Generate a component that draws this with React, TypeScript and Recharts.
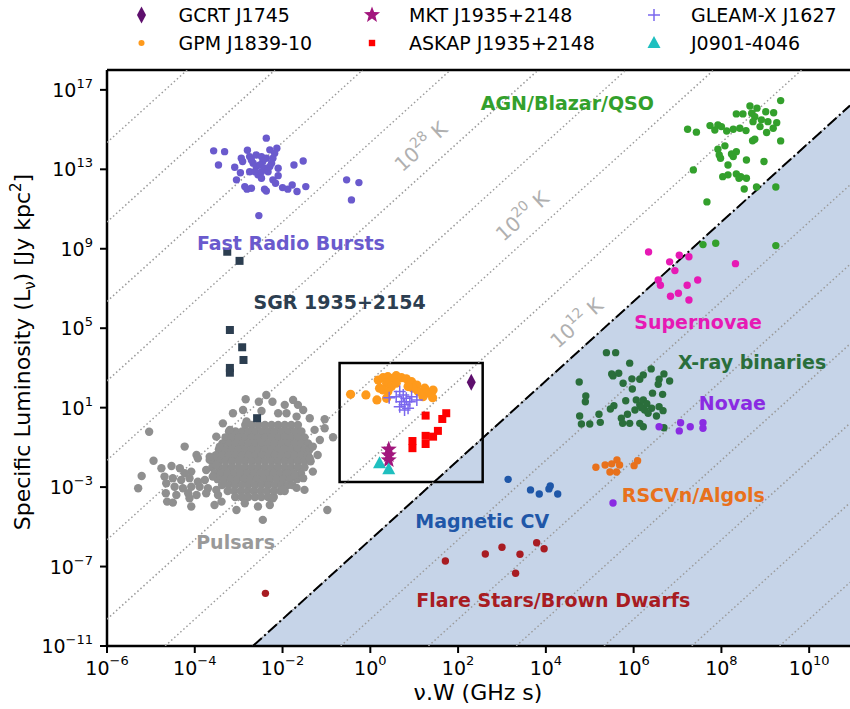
import { ComposedChart, Area, Scatter, XAxis, YAxis, ReferenceArea, ReferenceLine } from 'recharts'

// all positions are log10 values
const X_MIN = -6
const X_MAX = 10.93
const Y_MIN = -11
const Y_MAX = 18

const xTicks = [-6, -4, -2, 0, 2, 4, 6, 8, 10]
const yTicks = [-11, -7, -3, 1, 5, 9, 13, 17]

// brightness temperature lines: log L = 2 log(nuW) + log T + TB_ZERO
const tbLines = [-12, -8, -4, 0, 4, 8, 12, 16, 20, 24, 28, 32, 36, 40, 44]
const TB_ZERO = -17.65
const TB_LIMIT = 12
const tbLabels = [
  { t: 28, x: 1.15, y: 14.15 },
  { t: 20, x: 3.46, y: 10.65 },
  { t: 12, x: 4.7, y: 5.26 },
]

const inset = { x1: -0.7, x2: 2.56, y1: -2.74, y2: 3.25 }

type P = [number, number]

const frb: P[] = [
  [-2.37, 14.57], [-3.57, 13.93], [-3.32, 13.89], [-2.8, 13.96], [-2.29, 13.98], [-2.13, 14.06],
  [-3.46, 13.22], [-3.09, 13.1], [-2.94, 13.56], [-2.75, 13.64], [-2.6, 13.72], [-2.48, 13.64],
  [-2.37, 13.56], [-2.22, 13.56], [-2.18, 13.81], [-2.67, 13.31], [-2.6, 13.14], [-2.45, 13.39],
  [-2.25, 13.31], [-2.1, 13.05], [-2.96, 12.83], [-2.75, 12.88], [-2.56, 12.72], [-2.48, 12.55],
  [-2.33, 12.88], [-2.1, 12.68], [-3.05, 12.47], [-2.22, 12.47], [-2.16, 12.3], [-2.86, 12.13],
  [-2.81, 12.0], [-2.71, 12.05], [-2.41, 12.0], [-2.37, 11.91], [-2.0, 12.08], [-1.88, 12.0],
  [-1.78, 12.21], [-1.67, 11.88], [-1.47, 12.13], [-1.74, 13.22], [-1.53, 13.42], [-2.54, 10.67],
  [-0.54, 12.47], [-0.26, 12.33], [-0.43, 11.46], [-2.52, 13.22], [-2.41, 13.05], [-2.63, 12.88],
  [-2.29, 13.14], [-2.71, 13.47], [-2.91, 13.39], [-2.48, 12.88],
]

const sgr: P[] = [
  [-3.26, 8.85], [-2.98, 8.39], [-3.2, 4.91], [-2.92, 4.04], [-2.89, 3.4], [-3.2, 3.0], [-3.2, 2.76], [-2.58, 0.47],
]

// dense pulsar core, one row per luminosity level
const pulsarCore: { y: number; xs: number[] }[] = [
  { y: 0.13, xs: [-2.85, -2.7, -2.55, -2.4, -2.25, -2.1, -1.95, -1.8, -1.65] },
  { y: -0.2, xs: [-3.22, -3.07, -2.92, -2.77, -2.62, -2.47, -2.32, -2.17, -2.02, -1.87, -1.72, -1.57] },
  { y: -0.5, xs: [-3.3, -3.15, -3.0, -2.85, -2.7, -2.55, -2.4, -2.25, -2.1, -1.95, -1.8, -1.65, -1.5] },
  { y: -0.8, xs: [-3.37, -3.22, -3.07, -2.92, -2.77, -2.62, -2.47, -2.32, -2.17, -2.02, -1.87, -1.72, -1.57, -1.42] },
  { y: -1.1, xs: [-3.45, -3.3, -3.15, -3.0, -2.85, -2.7, -2.55, -2.4, -2.25, -2.1, -1.95, -1.8, -1.65, -1.5, -1.38] },
  { y: -1.4, xs: [-3.52, -3.37, -3.22, -3.07, -2.92, -2.77, -2.62, -2.47, -2.32, -2.17, -2.02, -1.87, -1.72, -1.57, -1.42] },
  { y: -1.7, xs: [-3.6, -3.45, -3.3, -3.15, -3.0, -2.85, -2.7, -2.55, -2.4, -2.25, -2.1, -1.95, -1.8, -1.65, -1.5, -1.36] },
  { y: -2.0, xs: [-3.6, -3.45, -3.3, -3.15, -3.0, -2.85, -2.7, -2.55, -2.4, -2.25, -2.1, -1.95, -1.8, -1.65, -1.5] },
  { y: -2.3, xs: [-3.55, -3.4, -3.25, -3.1, -2.95, -2.8, -2.65, -2.5, -2.35, -2.2, -2.05, -1.9, -1.75, -1.58] },
  { y: -2.6, xs: [-3.48, -3.33, -3.18, -3.03, -2.88, -2.73, -2.58, -2.43, -2.28, -2.13, -1.98, -1.83, -1.67] },
  { y: -2.9, xs: [-3.38, -3.23, -3.08, -2.93, -2.78, -2.63, -2.48, -2.33, -2.18, -2.03, -1.88, -1.78] },
  { y: -3.2, xs: [-3.25, -3.1, -2.95, -2.8, -2.65, -2.5, -2.35, -2.2, -2.05, -1.95] },
  { y: -3.5, xs: [-3.08, -2.93, -2.78, -2.63, -2.48, -2.33, -2.2] },
]

const pulsarOuter: P[] = [
  [-4.76, -2.05], [-4.53, -1.94], [-4.34, -2.05], [-4.23, -2.3], [-4.08, -2.22], [-3.96, -1.38],
  [-3.93, -1.55], [-3.74, -2.14], [-3.66, -1.63], [-3.51, -1.89], [-4.69, -2.47], [-4.5, -2.55],
  [-4.31, -2.64], [-4.12, -2.55], [-3.93, -2.73], [-3.77, -2.64], [-3.59, -2.47], [-4.65, -2.81],
  [-4.46, -2.98], [-4.27, -3.06], [-4.08, -2.98], [-3.89, -2.98], [-3.7, -3.06], [-3.51, -3.14],
  [-4.66, -3.31], [-4.42, -3.4], [-4.15, -3.31], [-3.96, -3.4], [-3.74, -3.31], [-4.63, -3.73],
  [-4.5, -3.78], [-4.08, -3.98], [-4.12, -3.56], [-3.47, -3.4], [-3.39, -3.73],
  [-5.04, -0.21], [-4.23, -0.96], [-4.94, -1.67], [-5.21, -2.44], [-5.29, -3.06], [-3.05, -4.15],
  [-2.45, -4.65], [-2.86, -3.81], [-2.56, -3.98], [-2.29, -3.9], [-2.22, -3.56], [-1.99, -3.14],
  [-1.72, -2.39], [-1.53, -2.55], [-1.31, -2.22], [-1.38, -1.55], [-1.31, -0.96], [-1.15, -0.63],
  [-1.04, -0.04], [-0.85, -0.49], [-1.04, 0.42], [-1.38, 0.47], [-1.53, 0.88], [-1.65, 1.14],
  [-1.76, 1.39], [-2.23, 1.3], [-2.37, 1.64], [-2.54, 1.3], [-2.84, 1.42], [-2.9, 0.88],
  [-3.13, 0.72], [-3.36, 0.21], [-2.1, 0.72], [-1.91, 0.72], [-1.68, 0.55], [-2.82, 0.3],
  [-3.51, -0.46], [-3.66, -1.47], [-3.43, -0.96], [-0.98, -4.15], [-2.48, 0.83], [-1.95, 1.14],
  [-3.2, -0.12], [-1.27, -0.12], [-1.2, -1.38], [-1.5, -3.14], [-1.68, -3.04], [-3.55, -3.9],
]

const agn: P[] = [
  [9.35, 16.46], [8.65, 16.19], [8.81, 16.08], [8.34, 15.79], [8.49, 15.79], [8.69, 15.82],
  [8.76, 15.65], [9.01, 15.9], [9.19, 15.85], [8.72, 15.4], [8.91, 15.49], [9.06, 15.4],
  [9.26, 15.35], [7.23, 15.02], [7.43, 14.87], [7.74, 15.2], [7.92, 15.23], [8.0, 15.15],
  [7.85, 14.98], [8.12, 14.93], [8.27, 15.02], [8.42, 15.07], [8.56, 14.95], [8.88, 15.15],
  [9.03, 14.85], [9.18, 15.07], [9.35, 14.43], [8.71, 14.44], [8.76, 14.51], [7.92, 14.01],
  [8.08, 14.18], [7.95, 13.72], [8.23, 13.77], [8.34, 13.89], [8.27, 13.64], [7.98, 13.56],
  [8.57, 13.47], [8.97, 13.39], [8.15, 13.22], [7.36, 12.97], [8.03, 12.63], [8.15, 12.72],
  [8.34, 12.77], [8.44, 12.63], [8.4, 12.55], [8.57, 12.55], [8.52, 12.01], [8.8, 12.11],
  [9.24, 12.11], [7.67, 11.36], [7.58, 9.21], [7.87, 9.28], [9.24, 9.16],
]

const supernovae: P[] = [
  [6.34, 8.84], [6.82, 8.34], [7.04, 8.67], [7.26, 8.6], [8.32, 8.25], [6.94, 7.9], [6.56, 7.43],
  [6.61, 7.16], [7.22, 7.16], [7.46, 7.43], [6.84, 6.61], [7.02, 6.76], [7.26, 6.42],
]

const xrb: P[] = [
  [5.38, 3.77], [5.59, 3.77], [5.91, 3.24], [4.76, 2.29], [5.5, 2.7], [5.53, 2.6], [5.66, 2.73],
  [5.76, 2.23], [5.96, 2.45], [5.97, 1.94], [6.14, 2.43], [6.22, 2.65], [6.4, 2.95], [6.58, 2.43],
  [6.69, 2.7], [6.82, 2.34], [6.56, 2.18], [6.43, 1.73], [6.66, 1.67], [4.91, 1.59], [4.9, 1.3],
  [5.82, 1.35], [5.55, 1.1], [5.47, 0.93], [6.06, 1.39], [6.14, 1.14], [6.22, 1.39], [6.03, 0.88],
  [6.25, 0.88], [6.41, 0.97], [6.58, 1.05], [6.67, 0.85], [6.33, 0.72], [6.52, 0.58], [4.77, 0.58],
  [5.21, 0.67], [5.86, 0.67], [5.72, 0.47], [4.81, 0.18], [5.0, 0.18], [5.24, 0.26], [5.75, 0.21],
  [5.91, 0.21], [6.14, 0.21], [6.22, 0.04], [6.69, -0.01], [6.18, 1.0], [6.3, 1.2],
]

const novae: P[] = [
  [6.58, 0.04], [7.07, 0.24], [7.04, -0.17], [7.29, 0.04], [7.58, 0.24], [7.58, -0.04], [5.53, -3.8],
]

const rscvn: P[] = [
  [5.14, -2.0], [5.35, -1.89], [5.5, -1.83], [5.62, -1.63], [5.68, -1.89], [5.46, -2.24], [5.61, -2.24],
  [6.01, -1.92], [6.09, -1.67],
]

const magCV: P[] = [[3.14, -2.61], [3.65, -3.14], [3.85, -3.35], [4.07, -3.09], [4.1, -2.94], [4.27, -3.35]]

const flareStars: P[] = [
  [-2.39, -8.35], [1.71, -6.72], [2.62, -6.37], [3.0, -6.03], [3.41, -6.38], [3.31, -7.34], [3.79, -5.8], [3.96, -6.1],
]

const gpm: P[] = [
  [-0.45, 1.67], [-0.1, 1.64], [0.15, 1.39], [0.21, 1.98], [0.18, 2.39], [0.29, 2.51], [0.4, 2.56],
  [0.52, 2.48], [0.59, 2.61], [0.71, 2.51], [0.82, 2.45], [0.94, 2.31], [1.06, 2.14], [1.24, 1.98],
  [1.43, 1.89], [1.42, 1.5], [1.28, 1.73], [0.37, 2.23], [0.48, 2.06], [0.59, 2.23], [0.29, 1.89],
  [0.4, 1.81], [1.09, 1.81], [1.2, 1.55], [0.97, 1.98], [0.86, 2.06], [0.37, 1.47],
]

const gleamx: P[] = [
  [0.43, 1.5], [0.67, 1.81], [0.75, 1.64], [0.82, 1.47], [0.71, 1.3], [0.78, 1.14], [0.86, 0.97],
  [0.94, 1.55], [1.06, 1.39], [0.67, 1.05], [0.59, 1.55], [0.9, 1.3], [0.78, 0.88],
]

const gcrt: P[] = [[2.3, 2.28]]

const askap: P[] = [
  [1.26, 0.6], [1.64, 0.43], [1.73, 0.72], [1.54, -0.17], [1.43, -0.46], [1.26, -0.42], [1.26, -0.83],
  [0.96, -0.68], [0.96, -1.04],
]

const mkt: P[] = [[0.42, -1.1], [0.42, -1.39], [0.42, -1.64]]

const j0901: P[] = [[0.21, -1.8], [0.42, -2.1]]

const groupLabels = [
  { text: 'AGN/Blazar/QSO', x: 4.49, y: 16.34, color: '#33a02c' },
  { text: 'Fast Radio Bursts', x: -1.81, y: 9.29, color: '#6a5acd' },
  { text: 'SGR 1935+2154', x: -0.7, y: 6.32, color: '#2c3e50' },
  { text: 'Supernovae', x: 7.47, y: 5.32, color: '#e619b4' },
  { text: 'X-ray binaries', x: 8.7, y: 3.3, color: '#2a6e3b' },
  { text: 'Novae', x: 8.25, y: 1.24, color: '#8a2be2' },
  { text: 'RSCVn/Algols', x: 7.36, y: -3.4, color: '#e8711c' },
  { text: 'Magnetic CV', x: 2.55, y: -4.7, color: '#1f57a8' },
  { text: 'Flare Stars/Brown Dwarfs', x: 4.17, y: -8.68, color: '#a81c22' },
  { text: 'Pulsars', x: -3.07, y: -5.76, color: '#999999' },
]

const legendItems = [
  { name: 'GCRT J1745', marker: 'diamond', color: '#5e0f6d' },
  { name: 'GPM J1839-10', marker: 'circle', color: '#fe9a1c' },
  { name: 'MKT J1935+2148', marker: 'star', color: '#a2167d' },
  { name: 'ASKAP J1935+2148', marker: 'square', color: '#ff0000' },
  { name: 'GLEAM-X J1627', marker: 'plus', color: '#7b68ee' },
  { name: 'J0901-4046', marker: 'triangle', color: '#1fbfbf' },
]

const FONT = 'DejaVu Sans'
const toXY = (pts: P[]) => pts.map(([x, y]) => ({ x, y }))
const sup = (v: number) => (v < 0 ? '\u2212' + Math.abs(v) : String(v))

function tempLine(t: number) {
  const c = t + TB_ZERO
  const xa = Math.max(X_MIN, (Y_MIN - c) / 2)
  const xb = Math.min(X_MAX, (Y_MAX - c) / 2)
  return [{ x: xa, y: 2 * xa + c }, { x: xb, y: 2 * xb + c }]
}

const pulsars = [
  ...pulsarCore.flatMap((r) => r.xs.map((x) => ({ x, y: r.y }))),
  ...toXY(pulsarOuter),
]

function Marker({ kind, cx, cy, color, s = 1 }: any) {
  if (kind === 'circle') return <circle cx={cx} cy={cy} r={3.8 * s} fill={color} />
  if (kind === 'square') return <rect x={cx - 4 * s} y={cy - 4 * s} width={8 * s} height={8 * s} fill={color} />
  if (kind === 'diamond')
    return <path d={`M${cx},${cy - 8.5 * s}L${cx + 4.5 * s},${cy}L${cx},${cy + 8.5 * s}L${cx - 4.5 * s},${cy}Z`} fill={color} />
  if (kind === 'plus')
    return (
      <path d={`M${cx - 6 * s},${cy}H${cx + 6 * s}M${cx},${cy - 6 * s}V${cy + 6 * s}`} stroke={color} strokeWidth={1.5} />
    )
  if (kind === 'triangle')
    return <path d={`M${cx},${cy - 7 * s}L${cx + 6.5 * s},${cy + 5 * s}L${cx - 6.5 * s},${cy + 5 * s}Z`} fill={color} />
  // star
  const pts: string[] = []
  for (let i = 0; i < 10; i++) {
    const r = (i % 2 === 0 ? 8.5 : 3.6) * s
    const a = -Math.PI / 2 + (i * Math.PI) / 5
    pts.push(`${cx + r * Math.cos(a)},${cy + r * Math.sin(a)}`)
  }
  return <polygon points={pts.join(' ')} fill={color} />
}

const dot = (r: number, fill: string) => (p: any) => <circle cx={p.cx} cy={p.cy} r={r} fill={fill} />
const mark = (kind: string, color: string) => (p: any) => <Marker kind={kind} cx={p.cx} cy={p.cy} color={color} />
const noShape = () => <g />

const XTick = ({ x, y, payload }: any) => (
  <text x={x} y={y} textAnchor="middle" fontSize={19} fontFamily={FONT} fill="#000">
    <tspan dy={22}>10</tspan>
    <tspan dy={-10} fontSize={13}>{sup(payload.value)}</tspan>
  </text>
)

const YTick = ({ x, y, payload }: any) => (
  <text x={x} y={y} textAnchor="end" fontSize={19} fontFamily={FONT} fill="#000">
    <tspan dy={7}>10</tspan>
    <tspan dy={-9} fontSize={13}>{sup(payload.value)}</tspan>
  </text>
)

const GroupLabel = (p: any) => (
  <text x={p.cx} y={p.cy} textAnchor="middle" dy="0.36em" fontSize={19} fontWeight="bold" fontFamily={FONT} fill={p.payload.color}>
    {p.payload.text}
  </text>
)

const TbLabel = (p: any) => (
  <text
    x={p.cx}
    y={p.cy}
    textAnchor="middle"
    fontSize={20}
    fontFamily={FONT}
    fill="#b0b0b0"
    transform={`rotate(-42.2 ${p.cx} ${p.cy})`}
  >
    <tspan dy={7}>10</tspan>
    <tspan dy={-9} fontSize={14}>{p.payload.t}</tspan>
    <tspan dy={9}> K</tspan>
  </text>
)

export default function App() {
  const colX = [141.5, 372, 654]
  const rowY = [15, 43]
  return (
    <div style={{ position: 'absolute', left: 0, top: 0, width: 850, height: 709, background: '#fff' }}>
      <ComposedChart
        width={850}
        height={709}
        data={tempLine(TB_LIMIT)}
        margin={{ top: 70, right: 0, bottom: 0, left: 0 }}
      >
        <XAxis
          dataKey="x"
          type="number"
          domain={[X_MIN, X_MAX]}
          allowDataOverflow
          ticks={xTicks}
          interval={0}
          height={63}
          tick={XTick}
          tickSize={7}
          tickMargin={0}
          axisLine={{ stroke: '#000', strokeWidth: 2.5 }}
          tickLine={{ stroke: '#000', strokeWidth: 2 }}
        />
        <YAxis
          dataKey="y"
          type="number"
          domain={[Y_MIN, Y_MAX]}
          allowDataOverflow
          ticks={yTicks}
          interval={0}
          width={107}
          tick={YTick}
          tickSize={7}
          tickMargin={7}
          axisLine={{ stroke: '#000', strokeWidth: 2.5 }}
          tickLine={{ stroke: '#000', strokeWidth: 2 }}
        />
        <Area
          dataKey="y"
          type="linear"
          baseValue={Y_MIN}
          fill="#c6d4e8"
          fillOpacity={1}
          stroke="none"
          dot={false}
          activeDot={false}
          isAnimationActive={false}
        />
        {tbLines.map((t) => (
          <Scatter
            key={t}
            data={tempLine(t)}
            line={{ stroke: '#9a9a9a', strokeWidth: 1.5, strokeDasharray: '1.5 2.6' }}
            shape={noShape}
            isAnimationActive={false}
          />
        ))}
        <Scatter
          data={tempLine(TB_LIMIT)}
          line={{ stroke: '#000', strokeWidth: 2, strokeDasharray: '12 3.2 2 3.2' }}
          shape={noShape}
          isAnimationActive={false}
        />
        <ReferenceArea
          x1={inset.x1}
          x2={inset.x2}
          y1={inset.y1}
          y2={inset.y2}
          fill="none"
          stroke="#000"
          strokeWidth={2.5}
          ifOverflow="visible"
        />
        <ReferenceLine y={Y_MAX} stroke="#000" strokeWidth={2.5} ifOverflow="visible" />
        <Scatter data={pulsars} shape={dot(4.2, '#8f8f8f')} isAnimationActive={false} />
        <Scatter data={toXY(frb)} shape={dot(3.7, '#6a5acd')} isAnimationActive={false} />
        <Scatter data={toXY(sgr)} shape={mark('square', '#2c3e50')} isAnimationActive={false} />
        <Scatter data={toXY(agn)} shape={dot(3.7, '#33a02c')} isAnimationActive={false} />
        <Scatter data={toXY(supernovae)} shape={dot(3.7, '#e619b4')} isAnimationActive={false} />
        <Scatter data={toXY(xrb)} shape={dot(3.7, '#2a6e3b')} isAnimationActive={false} />
        <Scatter data={toXY(novae)} shape={dot(3.7, '#8a2be2')} isAnimationActive={false} />
        <Scatter data={toXY(rscvn)} shape={dot(3.7, '#e8711c')} isAnimationActive={false} />
        <Scatter data={toXY(magCV)} shape={dot(3.7, '#1f57a8')} isAnimationActive={false} />
        <Scatter data={toXY(flareStars)} shape={dot(3.7, '#a81c22')} isAnimationActive={false} />
        <Scatter data={toXY(gpm)} shape={dot(4.6, '#fe9a1c')} isAnimationActive={false} />
        <Scatter data={toXY(gleamx)} shape={mark('plus', '#7b68ee')} isAnimationActive={false} />
        <Scatter data={toXY(askap)} shape={mark('square', '#ff0000')} isAnimationActive={false} />
        <Scatter data={toXY(mkt)} shape={mark('star', '#a2167d')} isAnimationActive={false} />
        <Scatter data={toXY(j0901)} shape={mark('triangle', '#1fbfbf')} isAnimationActive={false} />
        <Scatter data={toXY(gcrt)} shape={mark('diamond', '#5e0f6d')} isAnimationActive={false} />
        <Scatter data={groupLabels} shape={GroupLabel} isAnimationActive={false} />
        <Scatter data={tbLabels} shape={TbLabel} isAnimationActive={false} />
      </ComposedChart>
      <svg width={850} height={709} style={{ position: 'absolute', left: 0, top: 0, pointerEvents: 'none' }}>
        {legendItems.map((it, i) => {
          const cx = colX[Math.floor(i / 2)]
          const cy = rowY[i % 2]
          return (
            <g key={it.name}>
              <Marker kind={it.marker} cx={cx} cy={cy} color={it.color} s={it.marker === 'circle' || it.marker === 'square' ? 0.8 : 1} />
              <text x={cx + 37} y={cy} dy="0.36em" fontSize={19} fontFamily={FONT} fill="#000">
                {it.name}
              </text>
            </g>
          )
        })}
        <text x={478} y={700} textAnchor="middle" fontSize={22} fontFamily={FONT} fill="#000">
          {'\u03bd.W (GHz s)'}
        </text>
        <text x={30} y={352} textAnchor="middle" fontSize={22} fontFamily={FONT} fill="#000" transform="rotate(-90 30 352)">
          Specific Luminosity (L<tspan dy={5} fontSize={15}>{'\u03bd'}</tspan>
          <tspan dy={-5}>) [Jy kpc</tspan>
          <tspan dy={-9} fontSize={15}>2</tspan>
          <tspan dy={9}>]</tspan>
        </text>
      </svg>
    </div>
  )
}
